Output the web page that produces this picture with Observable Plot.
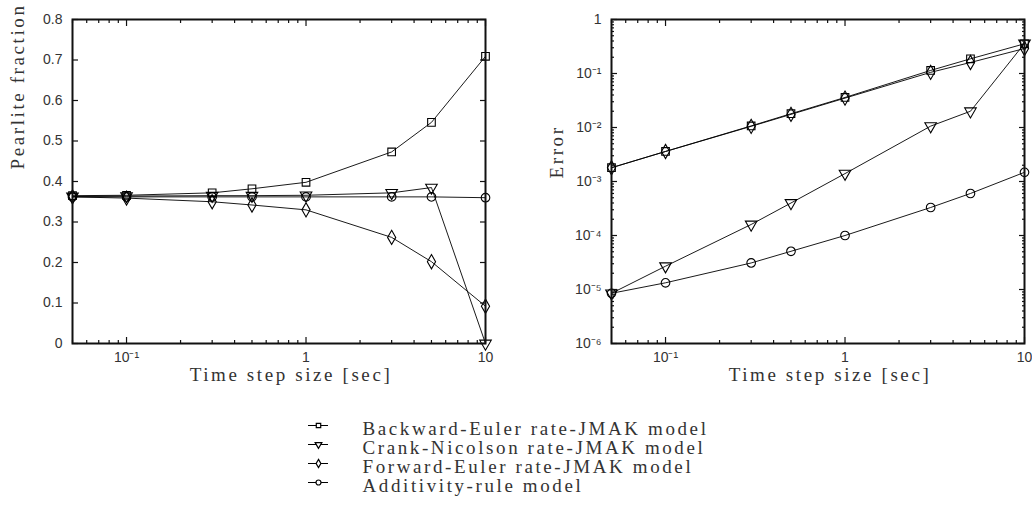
<!DOCTYPE html>
<html><head><meta charset="utf-8">
<script src="https://cdn.jsdelivr.net/npm/d3@7"></script>
<script src="https://cdn.jsdelivr.net/npm/@observablehq/plot@0.6"></script>
<style>
body{margin:0;background:#fff;}
#wrap{position:relative;width:1032px;height:511px;overflow:hidden;background:#fff;}
#left,#right,#legend{position:absolute;}
#left{left:0;top:0}
#right{left:516px;top:0}
#legend{left:290px;top:412px}
.ttl text{letter-spacing:2.6px;}
</style></head><body><div id="wrap"><div id="left"></div><div id="right"></div><div id="legend"></div></div>
<script>
const timeSteps = [0.05, 0.1, 0.3, 0.5, 1, 3, 5, 10];
const seriesNames = ["Backward-Euler rate-JMAK model", "Crank-Nicolson rate-JMAK model", "Forward-Euler rate-JMAK model", "Additivity-rule model"];
const seriesSymbols = ["square", "triangle", "diamond", "circle"];
const seriesRotate = [0, 180, 0, 0];

const fractionBackward   = [0.365, 0.366, 0.372, 0.382, 0.398, 0.473, 0.546, 0.709];
const fractionCrank      = [0.363, 0.364, 0.365, 0.365, 0.366, 0.372, 0.385, 0.000];
const fractionForward    = [0.362, 0.359, 0.350, 0.342, 0.330, 0.262, 0.202, 0.092];
const fractionAdditivity = [0.362, 0.362, 0.362, 0.362, 0.362, 0.362, 0.362, 0.360];

const errorBackward   = [1.8e-3, 3.6e-3, 1.07e-2, 1.8e-2, 3.6e-2, 0.114, 0.187, 0.355];
const errorCrank      = [8.5e-6, 2.7e-5, 1.6e-4, 4.0e-4, 1.4e-3, 1.06e-2, 2.0e-2, 0.36];
const errorForward    = [1.8e-3, 3.6e-3, 1.05e-2, 1.75e-2, 3.5e-2, 0.105, 0.16, 0.29];
const errorAdditivity = [8.5e-6, 1.33e-5, 3.1e-5, 5.1e-5, 1.0e-4, 3.3e-4, 6.0e-4, 1.48e-3];

const xMajorTicks = [0.1, 1, 10];
const xTickLabels = ["10⁻¹", "1", "10"];
const xMinorTicks = [0.05, 0.06, 0.07, 0.08, 0.09, 0.2, 0.3, 0.4, 0.5, 0.6, 0.7, 0.8, 0.9, 2, 3, 4, 5, 6, 7, 8, 9];
const fractionTicks = [0, 0.1, 0.2, 0.3, 0.4, 0.5, 0.6, 0.7, 0.8];
const fractionTickLabels = ["0", "0.1", "0.2", "0.3", "0.4", "0.5", "0.6", "0.7", "0.8"];
const errorMajorTicks = [1e-6, 1e-5, 1e-4, 1e-3, 1e-2, 1e-1, 1];
const errorTickLabels = ["10⁻⁶", "10⁻⁵", "10⁻⁴", "10⁻³", "10⁻²", "10⁻¹", "1"];
const errorMinorTicks = [];
for (const e of [-6, -5, -4, -3, -2, -1]) for (let m = 2; m <= 9; m++) errorMinorTicks.push(m * Math.pow(10, e));

const xTitle = "Time step size [sec]";
const leftYTitle = "Pearlite fraction";
const rightYTitle = "Error";

function table(cols) {
  return cols.flatMap((vals, i) => vals.map((v, j) => ({series: seriesNames[i], step: timeSteps[j], value: v, rot: seriesRotate[i]})));
}

const serif = "'Liberation Serif', 'DejaVu Serif', serif";
const titleColor = "#333";

function tickAxis(fn, anchor, ticks, size) {
  return fn({anchor, ticks, tickSize: size, fill: "none", stroke: "#111", strokeWidth: 1.2, label: null, tickFormat: () => ""});
}

function panel({data, y, yMajor, yMinor, yLabels, yTitle, yTitleDy, marginLeft, marginRight}) {
  const marks = [
    Plot.line(data, {x: "step", y: "value", z: "series", stroke: "#000", strokeWidth: 0.9}),
    Plot.dot(data, {x: "step", y: "value", symbol: "series", rotate: "rot", r: 4.3, stroke: "#000", strokeWidth: 1.1, fill: "none"}),
    tickAxis(Plot.axisX, "bottom", xMajorTicks, -6),
    tickAxis(Plot.axisX, "bottom", xMinorTicks, -3),
    tickAxis(Plot.axisX, "top", xMajorTicks, -6),
    tickAxis(Plot.axisX, "top", xMinorTicks, -3),
    tickAxis(Plot.axisY, "left", yMajor, -6),
    tickAxis(Plot.axisY, "right", yMajor, -6)
  ];
  if (yMinor) {
    marks.push(tickAxis(Plot.axisY, "left", yMinor, -3), tickAxis(Plot.axisY, "right", yMinor, -3));
  }
  marks.push(
    Plot.axisX({anchor: "bottom", ticks: xMajorTicks, tickSize: 0, tickPadding: 9, label: null, fill: "#333",
      tickFormat: d => xTickLabels[xMajorTicks.indexOf(d)]}),
    Plot.axisY({anchor: "left", ticks: yMajor, tickSize: 0, tickPadding: 10, label: null, fill: "#333",
      tickFormat: d => yLabels[yMajor.indexOf(d)]}),
    Plot.frame({stroke: "#111", strokeWidth: 2}),
    Plot.text([xTitle], {text: d => d, frameAnchor: "bottom", dy: 37, dx: 12, fontFamily: serif, fontSize: 19, fill: titleColor, className: "ttl"}),
    Plot.text([yTitle], {text: d => d, frameAnchor: "left", dx: -55, dy: yTitleDy, rotate: -90, fontFamily: serif, fontSize: 19, fill: titleColor, className: "ttl"})
  );
  return Plot.plot({
    width: 516, height: 400, marginLeft, marginRight, marginTop: 19, marginBottom: 57,
    style: {fontFamily: "'Liberation Sans', Arial, sans-serif", fontSize: "14px", color: "#111", background: "white", overflow: "visible"},
    x: {type: "log", domain: [0.05, 10]},
    y,
    symbol: {domain: seriesNames, range: seriesSymbols},
    marks
  });
}

document.getElementById("left").append(panel({
  data: table([fractionBackward, fractionCrank, fractionForward, fractionAdditivity]),
  y: {domain: [0, 0.8]},
  yMajor: fractionTicks, yMinor: null, yLabels: fractionTickLabels,
  yTitle: leftYTitle, yTitleDy: -12,
  marginLeft: 72, marginRight: 31
}));

document.getElementById("right").append(panel({
  data: table([errorBackward, errorCrank, errorForward, errorAdditivity]),
  y: {type: "log", domain: [1e-6, 1]},
  yMajor: errorMajorTicks, yMinor: errorMinorTicks, yLabels: errorTickLabels,
  yTitle: rightYTitle, yTitleDy: -3,
  marginLeft: 95, marginRight: 8
}));

const legendRows = seriesNames.map((name, i) => ({series: name, rot: seriesRotate[i]}));
document.getElementById("legend").append(Plot.plot({
  width: 480, height: 90, marginLeft: 18, marginRight: 442, marginTop: 13, marginBottom: 20,
  style: {background: "transparent", overflow: "visible"},
  y: {type: "point", domain: seriesNames, range: [13, 70], padding: 0, axis: null},
  symbol: {domain: seriesNames, range: seriesSymbols},
  marks: [
    Plot.ruleY(legendRows, {y: "series", stroke: "#000", strokeWidth: 1}),
    Plot.dot(legendRows, {y: "series", symbol: "series", rotate: "rot", r: 2.5, stroke: "#000", strokeWidth: 1.2, fill: "white"}),
    Plot.text(legendRows, {y: "series", text: "series", frameAnchor: "left", dx: 54, dy: 3, textAnchor: "start",
      fontFamily: serif, fontSize: 19, fill: titleColor, className: "ttl"})
  ]
}));
</script>
</body></html>
